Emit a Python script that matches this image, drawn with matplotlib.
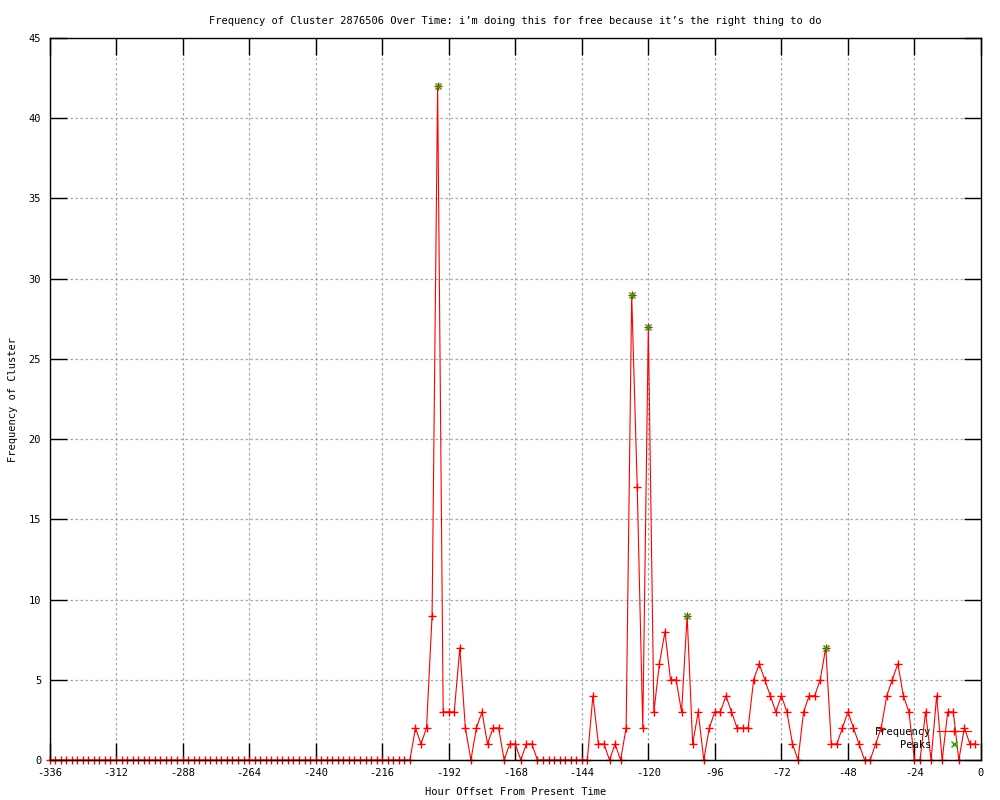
import matplotlib
matplotlib.use("Agg")
import matplotlib.pyplot as plt
import numpy as np

# hour offsets, one sample every 2 hours
hours = np.arange(-336, 0, 2)

freq = ([0] * 66 +
        # -204 .. -160
        [2, 1, 2, 9, 42, 3, 3, 3, 7, 2, 0, 2, 3, 1, 2, 2, 0, 1, 1, 0, 1, 1, 0] +
        # -158 .. -142
        [0] * 9 +
        # -140 .. -100
        [4, 1, 1, 0, 1, 0, 2, 29, 17, 2, 27, 3, 6, 8, 5, 5, 3, 9, 1, 3, 0] +
        # -98 .. -60
        [2, 3, 3, 4, 3, 2, 2, 2, 5, 6, 5, 4, 3, 4, 3, 1, 0, 3, 4, 4] +
        # -58 .. -2
        [5, 7, 1, 1, 2, 3, 2, 1, 0, 0, 1, 2, 4, 5, 6, 4, 3, 0, 0, 3, 0, 4, 0, 3, 3, 0, 2, 1, 1])

peak_hours = [-196, -126, -120, -106, -56]
peak_vals = [42, 29, 27, 9, 7]

xticks = np.arange(-336, 1, 24)
yticks = np.arange(0, 46, 5)

title = "Frequency of Cluster 2876506 Over Time: i\u2019m doing this for free because it\u2019s the right thing to do"

plt.rcParams['font.family'] = ['DejaVu Sans Mono']
plt.rcParams['font.size'] = 7.5
plt.rcParams['axes.unicode_minus'] = False

fig = plt.figure(figsize=(10, 8), dpi=100)
ax = fig.add_axes([0.0495, 0.05, 0.9315, 0.9025])

ax.plot(hours, freq, color='red', lw=0.8, marker='+', ms=5.5, mew=1,
        label='Frequency', clip_on=False, zorder=3)
ax.plot(peak_hours, peak_vals, ls='none', color='#00b000', marker='x', ms=4.5,
        mew=1, label='Peaks', clip_on=False, zorder=4)

ax.set_xlim(-336, 0)
ax.set_ylim(0, 45)
ax.set_xticks(xticks)
ax.set_yticks(yticks)
ax.grid(True, color='#a8a8a8', ls=(0, (2, 2)), lw=0.9)
ax.tick_params(direction='in', length=12, width=1, top=True, right=True,
               labelsize=7.5, pad=6)
for s in ax.spines.values():
    s.set_linewidth(1)
    s.set_zorder(5)

ax.set_title(title, fontsize=7.5, pad=10)
ax.set_xlabel('Hour Offset From Present Time', labelpad=6)
ax.set_ylabel('Frequency of Cluster', labelpad=8)

leg = ax.legend(loc='lower right', frameon=False, markerfirst=False,
                handlelength=3.2, handletextpad=0.6, labelspacing=0.25,
                borderaxespad=0.6, fontsize=7.5)

fig.savefig('out.png', dpi=100)
